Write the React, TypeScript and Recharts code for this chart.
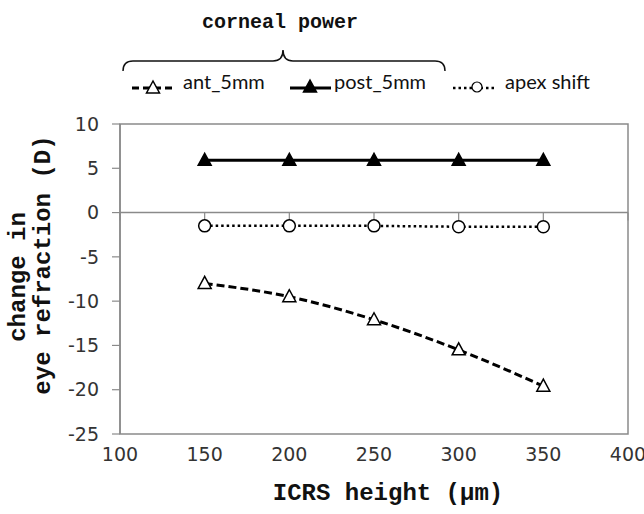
import React from 'react';
import { LineChart, Line, XAxis, YAxis, ReferenceLine, ReferenceArea } from 'recharts';

const heights = [150, 200, 250, 300, 350];
const ant5mm = [-8.0, -9.5, -12.1, -15.5, -19.6];
const post5mm = [5.9, 5.9, 5.9, 5.9, 5.9];
const apexShift = [-1.5, -1.5, -1.5, -1.6, -1.6];

const xTicks = [100, 150, 200, 250, 300, 350, 400];
const yTicks = [-25, -20, -15, -10, -5, 0, 5, 10];

const data = heights.map((h, i) => ({
	height: h,
	ant: ant5mm[i],
	post: post5mm[i],
	apex: apexShift[i],
}));

const AXIS_GREY = '#8a8a8a';
const TICK_FONT = { fill: '#333', fontSize: 19, fontFamily: 'DejaVu Sans' };
const MONO = '"Liberation Mono", "Courier New", monospace';

function Triangle({ cx, cy, filled }: { cx: number; cy: number; filled: boolean }) {
	return (
		<polygon
			points={`${cx},${cy - 7} ${cx - 6.5},${cy + 5} ${cx + 6.5},${cy + 5}`}
			fill={filled ? '#000' : '#fff'}
			stroke="#000"
			strokeWidth={1.5}
		/>
	);
}

const openTriangle = (p: any) => <Triangle key={`a${p.index}`} cx={p.cx} cy={p.cy} filled={false} />;
const filledTriangle = (p: any) => <Triangle key={`p${p.index}`} cx={p.cx} cy={p.cy} filled />;
const openCircle = (p: any) => (
	<circle key={`c${p.index}`} cx={p.cx} cy={p.cy} r={6} fill="#fff" stroke="#000" strokeWidth={1.5} />
);

function Overlay() {
	const legendFont = { fontFamily: 'Lato, sans-serif', fontSize: 20, fill: '#111' };
	return (
		<svg width={644} height={514} style={{ position: 'absolute', left: 0, top: 0, pointerEvents: 'none' }}>
			<text x={280} y={28} textAnchor="middle" fontFamily={MONO} fontWeight="bold" fontSize={20} fill="#111">
				corneal power
			</text>
			<path
				d="M123,71 Q123,61 133,61 L273,61 Q283,61 283,50 Q283,61 293,61 L435,61 Q445,61 445,71"
				fill="none"
				stroke="#111"
				strokeWidth={1.5}
			/>
			{/* legend */}
			<line x1={132} y1={88} x2={175} y2={88} stroke="#000" strokeWidth={3} strokeDasharray="7 4" />
			<Triangle cx={153} cy={88} filled={false} />
			<text x={183} y={89} {...legendFont}>ant_5mm</text>
			<line x1={290} y1={88} x2={331} y2={88} stroke="#000" strokeWidth={3} />
			<Triangle cx={310} cy={87} filled />
			<text x={334} y={89} {...legendFont}>post_5mm</text>
			<line x1={453} y1={88} x2={496} y2={88} stroke="#000" strokeWidth={2.5} strokeDasharray="2.5 3" />
			<circle cx={477} cy={87} r={5} fill="#fff" stroke="#000" strokeWidth={1.2} />
			<text x={505} y={89} {...legendFont}>apex shift</text>
			{/* axis titles */}
			<text
				transform="translate(25,277) rotate(-90)"
				textAnchor="middle"
				fontFamily={MONO}
				fontWeight="bold"
				fontSize={24}
				fill="#111"
			>
				change in
			</text>
			<text
				transform="translate(50,265) rotate(-90)"
				textAnchor="middle"
				fontFamily={MONO}
				fontWeight="bold"
				fontSize={24}
				fill="#111"
			>
				eye refraction (D)
			</text>
			<text x={388} y={500} textAnchor="middle" fontFamily={MONO} fontWeight="bold" fontSize={24} fill="#111">
				ICRS height (µm)
			</text>
		</svg>
	);
}

export default function App() {
	return (
		<div style={{ position: 'absolute', left: 0, top: 0, width: 644, height: 514, background: '#fff' }}>
			<LineChart width={644} height={514} data={data} margin={{ top: 124, right: 16, bottom: 50, left: 0 }}>
				<ReferenceArea x1={100} x2={400} y1={-25} y2={10} fill="none" stroke={AXIS_GREY} strokeWidth={1.5} />
				<ReferenceLine y={0} stroke={AXIS_GREY} strokeWidth={1.5} />
				{xTicks.map((t) => (
					<ReferenceLine
						key={t}
						segment={[
							{ x: t, y: 0 },
							{ x: t, y: -0.9 },
						]}
						stroke={AXIS_GREY}
						strokeWidth={1.2}
					/>
				))}
				<XAxis
					dataKey="height"
					type="number"
					domain={[100, 400]}
					ticks={xTicks}
					interval={0}
					axisLine={false}
					tickLine={false}
					tickSize={0}
					tickMargin={14}
					height={30}
					tick={TICK_FONT}
				/>
				<YAxis
					type="number"
					domain={[-25, 10]}
					ticks={yTicks}
					interval={0}
					width={120}
					axisLine={{ stroke: AXIS_GREY, strokeWidth: 1.5 }}
					tickLine={{ stroke: AXIS_GREY, strokeWidth: 1.2 }}
					tickSize={8}
					tickMargin={13}
					tick={TICK_FONT}
				/>
				<Line
					dataKey="post"
					type="linear"
					stroke="#000"
					strokeWidth={3}
					dot={filledTriangle}
					isAnimationActive={false}
				/>
				<Line
					dataKey="apex"
					type="linear"
					stroke="#000"
					strokeWidth={2.5}
					strokeDasharray="2.5 3"
					dot={openCircle}
					isAnimationActive={false}
				/>
				<Line
					dataKey="ant"
					type="monotone"
					stroke="#000"
					strokeWidth={3}
					strokeDasharray="8 4"
					dot={openTriangle}
					isAnimationActive={false}
				/>
			</LineChart>
			<Overlay />
		</div>
	);
}
